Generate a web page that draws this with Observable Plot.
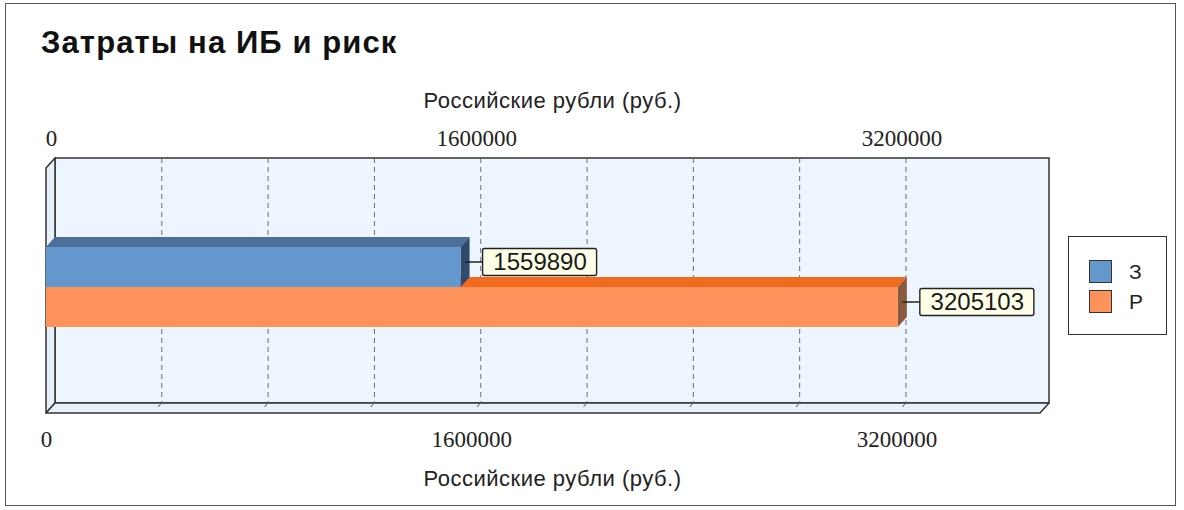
<!DOCTYPE html>
<html>
<head>
<meta charset="utf-8">
<script src="https://cdn.jsdelivr.net/npm/d3@7"></script>
<script src="https://cdn.jsdelivr.net/npm/@observablehq/plot@0.6"></script>
<style>
  body { margin: 0; background: #fff; }
  #wrap { position: relative; width: 1184px; height: 510px; overflow: hidden; background: #fff; }
  #border { position: absolute; left: 5px; top: 3px; width: 1171px; height: 503px; border: 1px solid #555; box-sizing: border-box; }
  #title { position: absolute; left: 41px; top: 27px; font: bold 31px "Liberation Sans", Arial, sans-serif; letter-spacing: 1.1px; line-height: 1; color: #111; white-space: nowrap; }
  #chart { position: absolute; left: 0; top: 0; }
  #legend { position: absolute; left: 1068px; top: 236px; width: 99px; height: 99px; border: 1px solid #333; box-sizing: border-box; background: #fff; }
  .sw { position: absolute; left: 20px; width: 23px; height: 23px; border: 1px solid #333; box-sizing: border-box; }
  .lb { position: absolute; left: 60px; font: 21px "Liberation Sans", Arial, sans-serif; line-height: 1; color: #222; }
</style>
</head>
<body>
<div id="wrap">
  <div id="border"></div>
  <div id="title"></div>
  <div id="chart"></div>
  <div id="legend"></div>
</div>
<script>
// ---- data ----
const chartTitle = "Затраты на ИБ и риск";
const axisTitle = "Российские рубли (руб.)";
const categories = ["З", "Р"];
const values = [1559890, 3205103];
const valueLabels = ["1559890", "3205103"];
const xTicks = [0, 1600000, 3200000];
const gridValues = [400000, 800000, 1200000, 1600000, 2000000, 2400000, 2800000, 3200000];
const xMax = 3740000;

// ---- styles ----
const frontColors = ["#6497cb", "#fd925b"];
const topColors = ["#4b6f98", "#f26a1e"];
const sideColors = ["#2f4a6b", "#8a5b40"];
const DX = 9, DY = 10;           // 3D depth offset (px)
const GAP = 22, BOX_W = 114, BOX_H = 27;
const SANS = "'Liberation Sans', Arial, sans-serif";
const SERIF = "'Liberation Serif', 'Times New Roman', serif";

const data = categories.map((c, i) => ({name: c, value: values[i], label: valueLabels[i]}));

const NS = "http://www.w3.org/2000/svg";
function el(tag, attrs = {}) {
  const e = document.createElementNS(NS, tag);
  for (const k in attrs) e.setAttribute(k, attrs[k]);
  return e;
}
const pts = (a) => a.map(p => p.join(",")).join(" ");

// 3D box: left wall, floor, back wall
function box3d(index, scales, vals, dim) {
  const {width, height, marginLeft, marginRight, marginTop, marginBottom} = dim;
  const x0 = marginLeft, x1 = width - marginRight, y0 = marginTop, y1 = height - marginBottom;
  const g = el("g");
  g.append(el("rect", {x: x0, y: y0, width: x1 - x0, height: y1 - y0, fill: "#edf6fe", stroke: "#333", "stroke-width": 1.5}));
  g.append(el("polygon", {points: pts([[x0, y0], [x0 - DX, y0 + DY], [x0 - DX, y1 + DY], [x0, y1]]), fill: "#e8f1f9", stroke: "#333", "stroke-width": 1.5, "stroke-linejoin": "round"}));
  g.append(el("polygon", {points: pts([[x0, y1], [x1, y1], [x1 - DX, y1 + DY], [x0 - DX, y1 + DY]]), fill: "#e8f1f9", stroke: "#333", "stroke-width": 1.5, "stroke-linejoin": "round"}));
  const x = scales.x;
  for (const v of gridValues) {
    g.append(el("line", {x1: x(v), y1: y1, x2: x(v) - 3, y2: y1 + 4, stroke: "#555", "stroke-width": 1}));
  }
  return g;
}

// top & side faces of bars (lower bar first so upper bar occludes it)
function barFaces(index, scales) {
  const {x, y} = scales;
  const bw = y.bandwidth();
  const g = el("g");
  for (let i = categories.length - 1; i >= 0; --i) {
    const xa = x(0) - DX, xb = x(values[i]) - DX;
    const yt = y(categories[i]) + DY, yb = yt + bw;
    g.append(el("polygon", {points: pts([[xa, yt], [xa + DX, yt - DY], [xb + DX, yt - DY], [xb, yt]]), fill: topColors[i]}));
    g.append(el("polygon", {points: pts([[xb, yt], [xb + DX, yt - DY], [xb + DX, yb - DY], [xb, yb]]), fill: sideColors[i]}));
  }
  return g;
}

// leader lines and label boxes
function labelBoxes(index, scales) {
  const {x, y} = scales;
  const bw = y.bandwidth();
  const g = el("g");
  categories.forEach((c, i) => {
    const xe = x(values[i]) - DX;
    const cy = y(c) + bw / 2 + DY - 5;
    g.append(el("line", {x1: xe + DX / 2, x2: xe + GAP, y1: cy, y2: cy, stroke: "#222", "stroke-width": 1.5}));
    g.append(el("rect", {x: xe + GAP, y: cy - BOX_H / 2, width: BOX_W, height: BOX_H, rx: 2, fill: "#ffffe8", stroke: "#222", "stroke-width": 1.4}));
  });
  return g;
}

const chart = Plot.plot({
  width: 1184,
  height: 510,
  marginLeft: 55,
  marginRight: 135,
  marginTop: 158,
  marginBottom: 107,
  style: {background: "transparent", fontFamily: SERIF, fontSize: "22px", color: "#222", overflow: "visible"},
  x: {domain: [0, xMax]},
  y: {domain: categories, paddingInner: 0, paddingOuter: 2.0625, align: 0.48, axis: null},
  color: {domain: categories, range: frontColors},
  marks: [
    box3d,
    Plot.ruleX(gridValues, {stroke: "#6c6c6c", strokeDasharray: "5,4", strokeWidth: 1}),
    barFaces,
    Plot.barX(data, {x: "value", y: "name", fill: "name", dx: -DX, dy: DY}),
    labelBoxes,
    Plot.text(data, {x: "value", y: "name", text: "label", dx: -DX + GAP + BOX_W / 2, dy: DY - 5, fontFamily: SANS, fontSize: 24, fill: "#1a1a1a"}),
    Plot.axisX({anchor: "top", ticks: xTicks, tickSize: 0, tickPadding: 13, tickFormat: d => String(d), dx: -4, fontSize: 23, fontFamily: SERIF, fill: "#222", label: null}),
    Plot.axisX({anchor: "bottom", ticks: xTicks, tickSize: 0, tickPadding: 27, tickFormat: d => String(d), dx: -DX, fontSize: 23, fontFamily: SERIF, fill: "#222", label: null}),
    Plot.text([axisTitle], {text: d => d, frameAnchor: "top", lineAnchor: "middle", dy: -58, fontFamily: SANS, fontSize: 22, fill: "#222", style: "letter-spacing:0.5px"}),
    Plot.text([axisTitle], {text: d => d, frameAnchor: "bottom", lineAnchor: "middle", dy: 75, fontFamily: SANS, fontSize: 22, fill: "#222"})
  ]
});
chart.querySelectorAll("text").forEach(t => {
  if (t.textContent === axisTitle) t.setAttribute("letter-spacing", "0.5");
});
document.getElementById("chart").append(chart);
document.getElementById("title").textContent = chartTitle;

// legend (HTML)
const legend = document.getElementById("legend");
categories.forEach((c, i) => {
  const sw = document.createElement("div");
  sw.className = "sw";
  sw.style.top = (23 + i * 30) + "px";
  sw.style.background = frontColors[i];
  legend.append(sw);
  const lb = document.createElement("div");
  lb.className = "lb";
  lb.style.top = (24 + i * 30) + "px";
  lb.textContent = c;
  legend.append(lb);
});
</script>
</body>
</html>
